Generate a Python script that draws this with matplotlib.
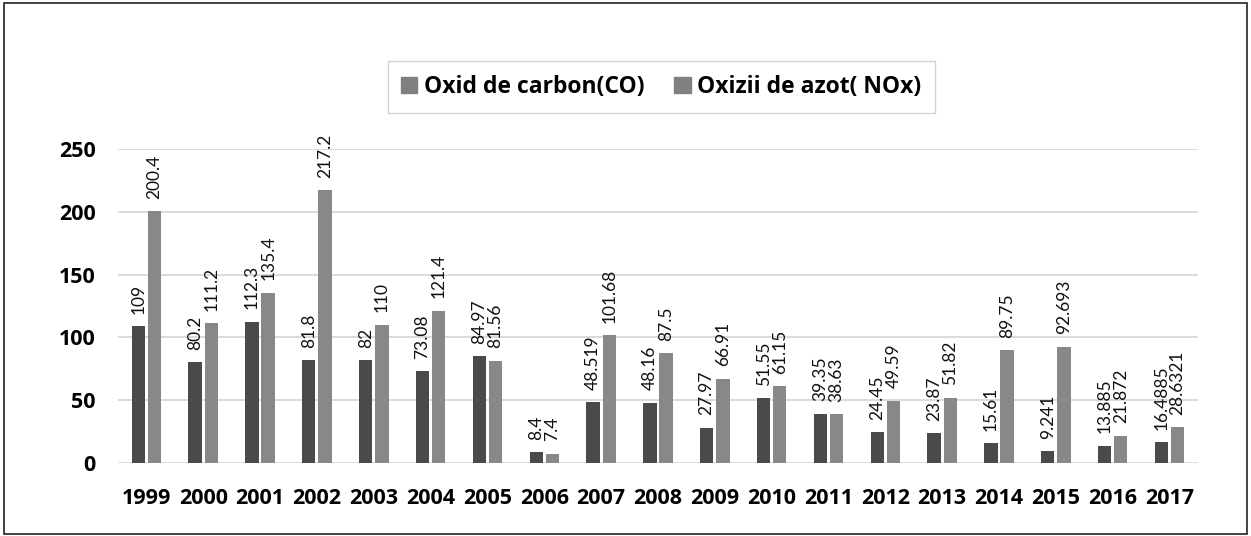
import numpy as np
import matplotlib.pyplot as plt
from matplotlib.patches import Patch, Rectangle

years = ['1999', '2000', '2001', '2002', '2003', '2004', '2005', '2006', '2007', '2008',
         '2009', '2010', '2011', '2012', '2013', '2014', '2015', '2016', '2017']
co = [109, 80.2, 112.3, 81.8, 82, 73.08, 84.97, 8.4, 48.519, 48.16,
      27.97, 51.55, 39.35, 24.45, 23.87, 15.61, 9.241, 13.885, 16.4885]
nox = [200.4, 111.2, 135.4, 217.2, 110, 121.4, 81.56, 7.4, 101.68, 87.5,
       66.91, 61.15, 38.63, 49.59, 51.82, 89.75, 92.693, 21.872, 28.6321]
co_labels = ['109', '80.2', '112.3', '81.8', '82', '73.08', '84.97', '8.4', '48.519', '48.16',
             '27.97', '51.55', '39.35', '24.45', '23.87', '15.61', '9.241', '13.885', '16.4885']
nox_labels = ['200.4', '111.2', '135.4', '217.2', '110', '121.4', '81.56', '7.4', '101.68', '87.5',
              '66.91', '61.15', '38.63', '49.59', '51.82', '89.75', '92.693', '21.872', '28.6321']

plt.rcParams['font.family'] = ['Lato', 'DejaVu Sans']
bold_font = ['Open Sans', 'DejaVu Sans']

dark = '#4a4a4a'
light = '#888888'

fig = plt.figure(figsize=(12.51, 5.36), dpi=100)
ax = fig.add_axes([0.0943, 0.1362, 0.8633, 0.5858])

x = np.arange(len(years))
w = 0.235
gap = 0.05
ax.bar(x - (w + gap) / 2, co, w, color=dark, zorder=2)
ax.bar(x + (w + gap) / 2, nox, w, color=light, zorder=2)

# etichete verticale deasupra barelor
for i in range(len(years)):
    ax.annotate(co_labels[i], (x[i] - (w + gap) / 2, co[i]), xytext=(0, 9),
                textcoords='offset points', rotation=90, ha='center', va='bottom',
                fontsize=12.5, color='#111111')
    ax.annotate(nox_labels[i], (x[i] + (w + gap) / 2, nox[i]), xytext=(0, 9),
                textcoords='offset points', rotation=90, ha='center', va='bottom',
                fontsize=12.5, color='#111111')

ax.set_xlim(-0.5, len(years) - 0.5)
ax.set_ylim(0, 250)
ax.set_yticks([0, 50, 100, 150, 200, 250])
ax.set_xticks(x)
ax.set_xticklabels(years)
ax.yaxis.grid(True, color='#d4d4d4', linewidth=1.2, zorder=0)
ax.set_axisbelow(True)
for s in ax.spines.values():
    s.set_visible(False)
ax.tick_params(length=0)
ax.tick_params(axis='y', pad=16)
ax.tick_params(axis='x', pad=18)
for lab in ax.get_xticklabels() + ax.get_yticklabels():
    lab.set_family(bold_font)
    lab.set_fontweight('bold')
    lab.set_fontsize(15.5)

handles = [Patch(color='#808080'), Patch(color='#808080')]
leg = fig.legend(handles, ['Oxid de carbon(CO)', 'Oxizii de azot( NOx)'],
                 loc='center', bbox_to_anchor=(0.5287, 0.8375), ncol=2,
                 prop={'family': bold_font, 'weight': 'bold', 'size': 16.5},
                 frameon=True, fancybox=False,
                 handlelength=0.7, handleheight=0.7, handletextpad=0.3,
                 columnspacing=1.3, borderpad=0.6, borderaxespad=0)
leg.get_frame().set_edgecolor('#c8c8c8')
leg.get_frame().set_linewidth(1.0)

fig.patches.append(Rectangle((0.003, 0.004), 0.994, 0.991, transform=fig.transFigure,
                             fill=False, edgecolor='#222222', linewidth=1.2))

fig.savefig('out.png', dpi=100)
